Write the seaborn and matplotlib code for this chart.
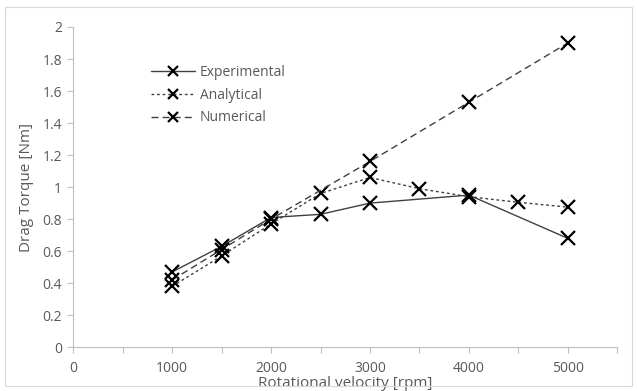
import pandas as pd
import matplotlib.pyplot as plt
import seaborn as sns
from matplotlib.patches import Rectangle

# Data
exp_rpm = [1000, 1500, 2000, 2500, 3000, 4000, 5000]
exp_torque = [0.47, 0.63, 0.81, 0.83, 0.90, 0.95, 0.68]

ana_rpm = [1000, 1500, 2000, 2500, 3000, 3500, 4000, 4500, 5000]
ana_torque = [0.38, 0.57, 0.77, 0.96, 1.06, 0.99, 0.94, 0.905, 0.875]

num_rpm = [1000, 1500, 2000, 3000, 4000, 5000]
num_torque = [0.42, 0.61, 0.80, 1.16, 1.53, 1.90]

x_ticks = [0, 1000, 2000, 3000, 4000, 5000]
y_ticks = [0, 0.2, 0.4, 0.6, 0.8, 1, 1.2, 1.4, 1.6, 1.8, 2]

sns.set_style("white")
plt.rcParams['font.family'] = ['Open Sans', 'DejaVu Sans']

grey = "#595959"

fig = plt.figure(figsize=(6.37, 3.91), dpi=100)
ax = fig.add_axes([0.115, 0.112, 0.854, 0.819])

series = [
    ("Experimental", exp_rpm, exp_torque, "-"),
    ("Analytical", ana_rpm, ana_torque, (0, (2, 2))),
    ("Numerical", num_rpm, num_torque, (0, (5, 3))),
]
for name, xs, ys, ls in series:
    df = pd.DataFrame({"rpm": xs, "torque": ys})
    sns.lineplot(data=df, x="rpm", y="torque", ax=ax, color="#404040",
                 linestyle=ls, linewidth=1.0, marker="x", markersize=10,
                 markeredgewidth=1.6, markeredgecolor="black", label=name)

ax.set_xlim(0, 5500)
ax.set_ylim(0, 2)
ax.set_xticks(range(0, 5501, 500), minor=True)
ax.set_xticks(x_ticks)
ax.set_xticklabels([str(v) for v in x_ticks])
ax.set_yticks(y_ticks)
ax.set_yticklabels(["0", "0.2", "0.4", "0.6", "0.8", "1", "1.2", "1.4", "1.6", "1.8", "2"])

for s in ["top", "right"]:
    ax.spines[s].set_visible(False)
for s in ["left", "bottom"]:
    ax.spines[s].set_color("#bfbfbf")
    ax.spines[s].set_linewidth(0.8)

ax.tick_params(axis="both", which="both", colors="#bfbfbf", labelcolor=grey,
               labelsize=10, length=4, width=0.8, direction="out")
ax.tick_params(axis="x", which="both", pad=6)
ax.tick_params(axis="y", pad=4)
ax.tick_params(axis="both", which="both", bottom=True, left=True)

ax.set_xlabel("Rotational velocity [rpm]", color=grey, fontsize=11, labelpad=0)
ax.set_ylabel("Drag Torque [Nm]", color=grey, fontsize=11, labelpad=6)

leg = ax.legend(loc="upper left", bbox_to_anchor=(0.12, 0.92), frameon=False,
                fontsize=10, handlelength=3.2, handletextpad=0.3,
                labelspacing=0.55, numpoints=1, markerscale=0.75)
for t in leg.get_texts():
    t.set_color(grey)

fig.patches.append(Rectangle((0.008, 0.012), 0.984, 0.97, transform=fig.transFigure,
                             fill=False, edgecolor="#d9d9d9", linewidth=0.8))

fig.savefig("out.png", dpi=100)
plt.close()
